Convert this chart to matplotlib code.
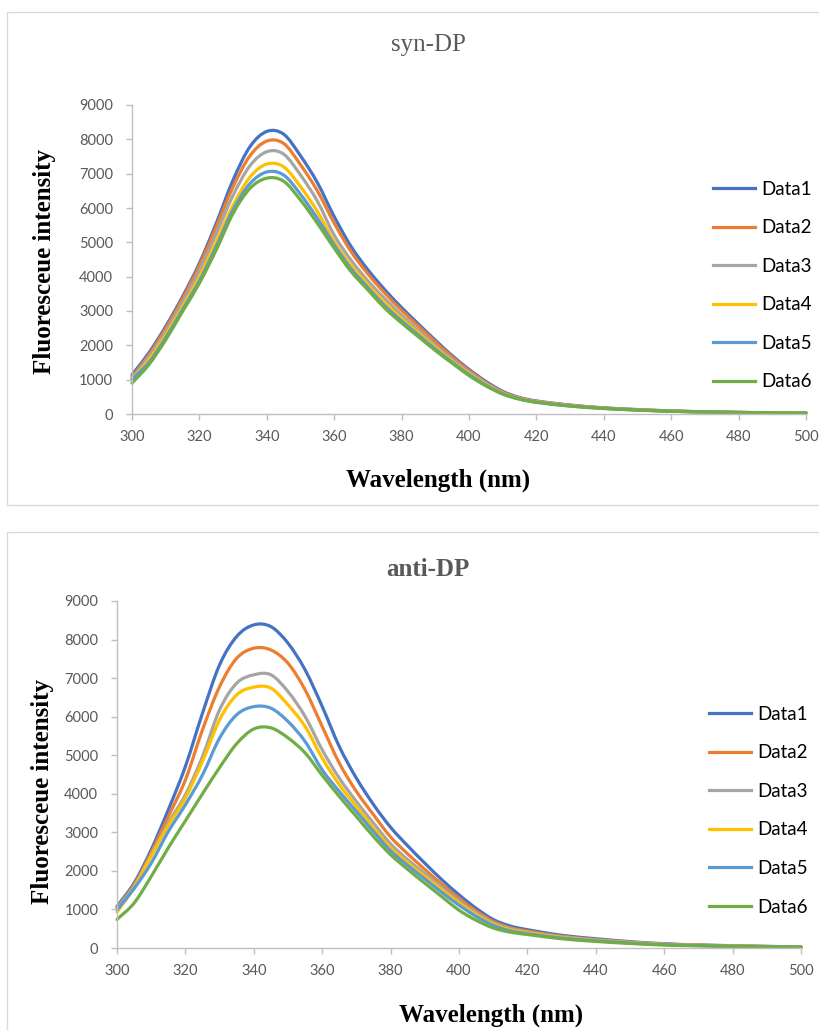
import matplotlib
matplotlib.use("Agg")
import matplotlib.pyplot as plt
from matplotlib.patches import Rectangle, PathPatch
from matplotlib.path import Path
from matplotlib.lines import Line2D

# ---------------- data ----------------
wavelength = [300, 305, 310, 315, 320, 325, 330, 335, 340, 345, 350, 355, 360,
              365, 370, 375, 380, 385, 390, 395, 400, 405, 410, 415, 420,
              430, 440, 450, 460, 470, 480, 490, 500]

series_names = ["Data1", "Data2", "Data3", "Data4", "Data5", "Data6"]

syn_data1 = [1140, 1780, 2550, 3420, 4390, 5555, 6815, 7785, 8230, 8150, 7520, 6740, 5750,
             4880, 4200, 3620, 3100, 2620, 2150, 1700, 1300, 950, 660, 480, 380,
             260, 180, 130, 90, 65, 48, 36, 28]
syn_data2 = [1080, 1720, 2490, 3360, 4320, 5450, 6620, 7520, 7950, 7880, 7260, 6500, 5560,
             4730, 4080, 3520, 3020, 2560, 2100, 1660, 1270, 920, 640, 470, 370,
             255, 175, 125, 88, 63, 46, 35, 27]
syn_data3 = [1050, 1660, 2400, 3250, 4180, 5250, 6370, 7230, 7640, 7570, 6960, 6200, 5210,
             4480, 3880, 3360, 2880, 2440, 2000, 1590, 1220, 890, 620, 455, 360,
             248, 170, 122, 86, 62, 45, 34, 26]
syn_data4 = [1000, 1580, 2300, 3120, 4000, 5020, 6080, 6900, 7280, 7200, 6620, 5900, 5020,
             4330, 3760, 3240, 2780, 2360, 1940, 1540, 1180, 860, 600, 445, 352,
             243, 167, 120, 84, 60, 44, 33, 25]
syn_data5 = [1000, 1500, 2220, 3040, 3880, 4880, 5950, 6710, 7050, 6960, 6400, 5700, 4925,
             4230, 3680, 3150, 2710, 2300, 1890, 1510, 1150, 840, 590, 438, 346,
             236, 163, 117, 82, 59, 43, 32, 25]
syn_data6 = [900, 1435, 2160, 2985, 3810, 4780, 5845, 6570, 6870, 6780, 6230, 5555, 4830,
             4150, 3615, 3085, 2650, 2250, 1850, 1480, 1120, 820, 580, 430, 340,
             230, 160, 115, 80, 58, 42, 32, 25]

anti_data1 = [1080, 1685, 2550, 3585, 4710, 6090, 7345, 8080, 8380, 8335, 7905, 7215, 6265,
              5225, 4405, 3720, 3130, 2650, 2200, 1770, 1380, 1030, 740, 570, 475,
              330, 240, 165, 110, 80, 60, 42, 28]
anti_data2 = [1050, 1640, 2480, 3410, 4360, 5660, 6780, 7515, 7775, 7730, 7385, 6695, 5745,
              4795, 4060, 3455, 2880, 2440, 2040, 1650, 1290, 960, 690, 525, 440,
              305, 220, 152, 100, 74, 55, 39, 26]
anti_data3 = [1020, 1610, 2420, 3240, 3975, 4965, 6180, 6870, 7085, 7085, 6650, 6005, 5140,
              4405, 3800, 3240, 2700, 2290, 1930, 1570, 1220, 910, 650, 500, 415,
              290, 208, 145, 96, 70, 52, 37, 25]
anti_data4 = [930, 1570, 2380, 3180, 3890, 4840, 5920, 6565, 6765, 6740, 6305, 5745, 4925,
              4235, 3670, 3110, 2600, 2210, 1860, 1510, 1170, 870, 620, 475, 395,
              275, 198, 138, 92, 67, 50, 36, 24]
anti_data5 = [990, 1540, 2200, 3020, 3715, 4490, 5445, 6050, 6260, 6220, 5875, 5355, 4620,
              4060, 3540, 3020, 2520, 2140, 1790, 1440, 1110, 820, 585, 445, 370,
              258, 188, 130, 86, 63, 47, 34, 23]
anti_data6 = [740, 1165, 1855, 2600, 3300, 4000, 4680, 5300, 5680, 5710, 5450, 5060, 4480,
              3930, 3410, 2890, 2420, 2040, 1680, 1330, 980, 720, 520, 410, 350,
              240, 170, 118, 77, 57, 42, 31, 21]

syn_series = [syn_data1, syn_data2, syn_data3, syn_data4, syn_data5, syn_data6]
anti_series = [anti_data1, anti_data2, anti_data3, anti_data4, anti_data5, anti_data6]

x_ticks = [300, 320, 340, 360, 380, 400, 420, 440, 460, 480, 500]
y_ticks = [0, 1000, 2000, 3000, 4000, 5000, 6000, 7000, 8000, 9000]

colors = ["#4472C4", "#ED7D31", "#A5A5A5", "#FFC000", "#5B9BD5", "#70AD47"]

# ---------------- figure ----------------
W, H = 819, 1030
fig = plt.figure(figsize=(W / 100, H / 100), dpi=100)

SERIF = "Liberation Serif"
SANS = "Lato"
AXIS_COL = "#BFBFBF"
TICK_COL = "#595959"
LW = 2.3

# panel borders
fig.patches.append(Rectangle((7 / W, 1 - 505 / H), 1.2, (505 - 12) / H,
                             transform=fig.transFigure, fill=False,
                             edgecolor="#D9D9D9", lw=1.0))
fig.patches.append(Rectangle((7 / W, -0.2), 1.2, 0.2 + (1030 - 532) / H,
                             transform=fig.transFigure, fill=False,
                             edgecolor="#D9D9D9", lw=1.0))


def px_rect(l, t, r, b):
    return [l / W, 1 - b / H, (r - l) / W, (b - t) / H]


def style_axes(ax):
    ax.set_xlim(300, 500)
    ax.set_ylim(0, 9000)
    ax.set_xticks(x_ticks)
    ax.set_yticks(y_ticks)
    for s in ["top", "right"]:
        ax.spines[s].set_visible(False)
    for s in ["left", "bottom"]:
        ax.spines[s].set_color(AXIS_COL)
        ax.spines[s].set_linewidth(1.0)
    ax.tick_params(axis="both", direction="out", length=4.5, width=1.0,
                   color=AXIS_COL, labelcolor=TICK_COL, labelsize=10.5)
    ax.tick_params(axis="y", pad=9)
    ax.tick_params(axis="x", pad=7)
    for lab in ax.get_xticklabels() + ax.get_yticklabels():
        lab.set_fontfamily(SANS)


def smooth_path(xs, ys):
    """Smoothed line through the data points (like Excel's smoothed line):
    cubic Hermite segments written as Bezier curves."""
    n = len(xs)
    m = []
    for i in range(n):
        if i == 0:
            m.append((ys[1] - ys[0]) / (xs[1] - xs[0]))
        elif i == n - 1:
            m.append((ys[-1] - ys[-2]) / (xs[-1] - xs[-2]))
        else:
            m.append((ys[i + 1] - ys[i - 1]) / (xs[i + 1] - xs[i - 1]))
    verts = [(xs[0], ys[0])]
    codes = [Path.MOVETO]
    for i in range(n - 1):
        h = xs[i + 1] - xs[i]
        verts += [(xs[i] + h / 3, ys[i] + m[i] * h / 3),
                  (xs[i + 1] - h / 3, ys[i + 1] - m[i + 1] * h / 3),
                  (xs[i + 1], ys[i + 1])]
        codes += [Path.CURVE4] * 3
    return Path(verts, codes)


def draw(ax, series):
    handles = []
    for name, vals, c in zip(series_names, series, colors):
        patch = PathPatch(smooth_path(wavelength, vals), fill=False,
                          edgecolor=c, lw=LW, capstyle="round",
                          joinstyle="round", clip_on=False)
        ax.add_patch(patch)
        handles.append(Line2D([], [], color=c, lw=LW, label=name))
    return handles


def add_legend(ax, handles, x, y):
    ax.legend(handles=handles, loc="center left", bbox_to_anchor=(x, y),
              bbox_transform=fig.transFigure, frameon=False,
              prop={"family": SANS, "size": 13.5}, handlelength=2.25,
              handletextpad=0.3, labelspacing=1.15, borderpad=0,
              borderaxespad=0)


# top panel
ax1 = fig.add_axes(px_rect(132, 105, 806, 414))
h1 = draw(ax1, syn_series)
style_axes(ax1)
add_legend(ax1, h1, 713 / W, 1 - 285.5 / H)

fig.text(428 / W, 1 - 45 / H, "syn-DP", ha="center", va="center",
         family=SERIF, fontsize=18, color="#595959")
fig.text(45 / W, 1 - 262 / H, "Fluoresceue intensity", ha="center", va="center",
         rotation=90, family=SERIF, fontsize=18, fontweight="bold", color="black")
fig.text(438 / W, 1 - 480 / H, "Wavelength (nm)", ha="center", va="center",
         family=SERIF, fontsize=18, fontweight="bold", color="black")

# bottom panel
ax2 = fig.add_axes(px_rect(117, 601, 801, 948))
h2 = draw(ax2, anti_series)
style_axes(ax2)
add_legend(ax2, h2, 709 / W, 1 - 810.7 / H)

fig.text(428 / W, 1 - 570 / H, "anti-DP", ha="center", va="center",
         family=SERIF, fontsize=18, fontweight="bold", color="#595959")
fig.text(43 / W, 1 - 792 / H, "Fluoresceue intensity", ha="center", va="center",
         rotation=90, family=SERIF, fontsize=18, fontweight="bold", color="black")
fig.text(491 / W, 1 - 1015 / H, "Wavelength (nm)", ha="center", va="center",
         family=SERIF, fontsize=18, fontweight="bold", color="black")

fig.savefig("out.png", dpi=100)
